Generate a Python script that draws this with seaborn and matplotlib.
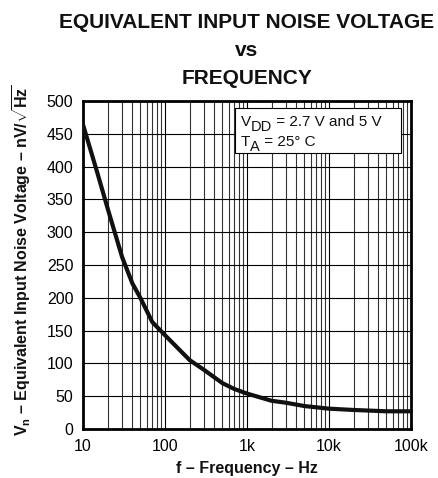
import matplotlib
matplotlib.use("Agg")
import matplotlib.pyplot as plt
import matplotlib.patches as mpatches
import matplotlib.transforms as mtransforms
import seaborn as sns
import pandas as pd
from matplotlib.ticker import FixedLocator, NullFormatter, LogLocator

sns.set_style("white")
plt.rcParams['font.family'] = ['Liberation Sans', 'DejaVu Sans']
plt.rcParams['mathtext.fontset'] = 'custom'
plt.rcParams['mathtext.rm'] = 'Liberation Sans'
plt.rcParams['mathtext.bf'] = 'Liberation Sans:bold'
plt.rcParams['mathtext.it'] = 'Liberation Sans:italic'

# Data
freq_hz = [10, 15, 20, 30, 40, 50, 70, 100, 200, 300, 500, 700, 1000,
           2000, 3000, 5000, 10000, 20000, 50000, 100000]
noise_nv = [464, 390, 336, 262, 222, 200, 163, 143, 105, 90, 70, 61, 54,
            43, 40, 35, 31, 29, 27, 27]
x_ticks = [10, 100, 1000, 10000, 100000]
x_tick_labels = ["10", "100", "1k", "10k", "100k"]
y_ticks = [0, 50, 100, 150, 200, 250, 300, 350, 400, 450, 500]

df = pd.DataFrame({"f": freq_hz, "vn": noise_nv})

W, H = 438, 478
fig = plt.figure(figsize=(W / 100, H / 100), dpi=100)
ax = fig.add_axes([83 / W, 1 - 429 / H, (411 - 83) / W, (429 - 101) / H])

ax.set_xscale("log")
ax.set_xlim(10, 100000)
ax.set_ylim(0, 500)

# grid
ax.xaxis.set_major_locator(FixedLocator(x_ticks))
ax.xaxis.set_minor_locator(LogLocator(base=10, subs=range(2, 10)))
ax.xaxis.set_minor_formatter(NullFormatter())
ax.set_xticks(x_ticks)
ax.set_xticklabels(x_tick_labels)
ax.set_yticks(y_ticks)
ax.grid(True, which="major", color="black", linewidth=0.8)
ax.grid(True, which="minor", axis="x", color="#333333", linewidth=0.8)
ax.set_axisbelow(True)

sns.lineplot(data=df, x="f", y="vn", ax=ax, color="#111111", linewidth=3, zorder=3)

ax.set_xlabel("")
ax.set_ylabel("")
ax.tick_params(axis="both", which="both", length=0, labelsize=11.5, pad=7, colors="black")
for s in ax.spines.values():
    s.set_visible(True)
    s.set_linewidth(2)
    s.set_color("black")

# annotation box (in figure pixel coordinates -> axes fractions)
def ax_x(px):
    return (px - 83) / (411 - 83)

def ax_y(py):
    return (429 - py) / (429 - 101)

box = mpatches.Rectangle((ax_x(235), ax_y(153)), ax_x(401) - ax_x(235),
                         ax_y(108.5) - ax_y(153), transform=ax.transAxes,
                         facecolor="white", edgecolor="black", linewidth=0.8,
                         zorder=4)
ax.add_patch(box)

fig.canvas.draw()
renderer = fig.canvas.get_renderer()

def rich_line(parts, x0, y0):
    """parts: list of (text, fontsize, dy_points)"""
    trans = ax.transAxes
    dx = 0.0
    for txt, fs, dy in parts:
        t = ax.text(x0, y0, txt, transform=mtransforms.offset_copy(
            trans, fig=fig, x=dx, y=dy, units="points"),
            ha="left", va="baseline", fontsize=fs, color="#111111", zorder=5)
        bb = t.get_window_extent(renderer=renderer)
        dx += bb.width * 72 / fig.dpi

rich_line([("V", 11, 0), ("DD", 10.5, -3.5), (" = 2.7 V and 5 V", 11, 0)],
          ax_x(241), ax_y(126))
rich_line([("T", 11, 0), ("A", 10.5, -3.5), (" = 25° C", 11, 0)],
          ax_x(241), ax_y(146.5))

# titles
cx = (83 + 411) / 2 / W
for txt, py in [("EQUIVALENT INPUT NOISE VOLTAGE", 22), ("vs", 51), ("FREQUENCY", 79)]:
    fig.text(cx, 1 - py / H, txt, ha="center", va="center",
             fontsize=15, fontweight="bold", color="#111111")

fig.text(cx, 1 - 468 / H, "f – Frequency – Hz", ha="center", va="center",
         fontsize=11.5, fontweight="bold", color="#111111")
fig.text(22 / W, 1 - 260 / H,
         r"$\mathbf{V_n}$ – Equivalent Input Noise Voltage – nV/$\sqrt{\mathbf{Hz}}$",
         ha="center", va="center", rotation=90, fontsize=11.5, fontweight="bold",
         color="#111111")

fig.savefig("out.png", dpi=100, facecolor="white")
